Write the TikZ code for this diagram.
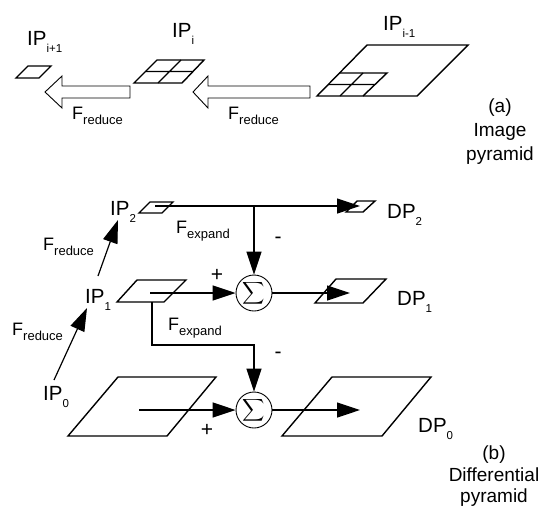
\documentclass[tikz,border=0pt]{standalone}
\usepackage{fontspec}
\usepackage{graphicx}
\setmainfont{Liberation Sans}
\usetikzlibrary{arrows.meta}
\newcommand{\ipl}[2]{#1\raisebox{-7pt}{\fontsize{11.5}{11.5}\selectfont #2}}
\newcommand{\fl}[2]{#1\raisebox{-5pt}{\fontsize{13}{13}\selectfont #2}}
\newcommand{\bigsum}{\scalebox{1.55}{$\displaystyle\sum$}}
\begin{document}
\begin{tikzpicture}[x=1pt,y=-1pt,
  lbl/.style={font=\fontsize{20.5}{20.5}\selectfont, inner sep=0pt, anchor=base west},
  flbl/.style={font=\fontsize{18}{18}\selectfont, inner sep=0pt, anchor=base west},
  captxt/.style={font=\fontsize{19}{19}\selectfont, inner sep=0pt, anchor=base},
  sign/.style={font=\fontsize{21}{21}\selectfont, inner sep=0pt},
  plate/.style={line width=1.4pt, line join=miter},
  conn/.style={line width=1.2pt},
  arr/.style={conn, -{Triangle[length=23pt,width=15pt]}},
  hollow/.style={line width=0.9pt, line join=miter},
  sumnode/.style={circle, draw, line width=0.9pt, minimum size=36pt, inner sep=0pt}]
\useasboundingbox (0,0) rectangle (545,506);

% ---------- (a) image pyramid ----------
\draw[plate] (16,78) -- (39,78) -- (51,66) -- (28,66) -- cycle;
\draw[plate] (134,83) -- (182,83) -- (204,60) -- (157,60) -- cycle;
\draw[plate] (145.5,71.5) -- (193,71.5) (158,83) -- (181,60);
\draw[plate] (317,96) -- (417,96) -- (468,45) -- (367,45) -- cycle;
\draw[plate] (339,73) -- (387,73) -- (363,96);
\draw[plate] (328,84.5) -- (375,84.5) (340,96) -- (363,73);

\draw[hollow] (45,92) -- (62,76) -- (62,86) -- (130,86) -- (130,98) -- (62,98) -- (62,108) -- cycle;
\draw[hollow] (193,92) -- (208,76) -- (208,86) -- (310,86) -- (310,98) -- (208,98) -- (208,108) -- cycle;

\node[lbl] (ipa) at (27,45) {\ipl{IP}{i+1}};
\node[lbl] (ipb) at (172,37) {\ipl{IP}{i}};
\node[lbl] (ipc) at (383,30) {\ipl{IP}{i-1}};
\node[flbl] (fra) at (72,119) {\fl{F}{reduce}};
\node[flbl] (frb) at (228,119) {\fl{F}{reduce}};
\node[captxt] (capa1) at (500,112) {(a)};
\node[captxt] (capa2) at (500,136) {Image};
\node[captxt] (capa3) at (500,160) {pyramid};

% ---------- (b) differential pyramid ----------
\draw[plate] (139,213) -- (162,213) -- (173,202) -- (150,202) -- cycle;
\draw[plate] (346,212) -- (363,212) -- (375,201) -- (357,201) -- cycle;
\draw[plate] (117,302) -- (164,302) -- (186,280) -- (137,280) -- cycle;
\draw[plate] (315,303) -- (363,303) -- (386,279) -- (336,279) -- cycle;
\draw[plate] (68,436) -- (167,436) -- (216,377) -- (118,377) -- cycle;
\draw[plate] (282,436) -- (382,436) -- (431,377) -- (332,377) -- cycle;

\node[sumnode] (s1) at (254,293) {\bigsum};
\node[sumnode] (s0) at (254,410) {\bigsum};

\coordinate (ip2s) at (155,206);
\coordinate (dp2t) at (360,206);
\coordinate (j2) at (254,206);
\coordinate (ip1s) at (150,293);
\coordinate (dp1t) at (350,293);
\coordinate (ip1b) at (152,302);
\coordinate (k1) at (152,345);
\coordinate (k2) at (254,345);
\coordinate (ip0s) at (139,410);
\coordinate (dp0t) at (360,410);
\coordinate (r0a) at (54,380);
\coordinate (r0b) at (87,308);
\coordinate (r1a) at (98,276);
\coordinate (r1b) at (118,220);

\draw[arr] (ip2s) -- (dp2t);
\draw[arr] (j2) -- (s1);
\draw[arr] (ip1s) -- (s1);
\draw[arr] (s1) -- (dp1t);
\draw[arr] (ip1b) -- (k1) -- (k2) -- (s0);
\draw[arr] (ip0s) -- (s0);
\draw[arr] (s0) -- (dp0t);
\draw[arr] (r0a) -- (r0b);
\draw[arr] (r1a) -- (r1b);

\node[lbl] (ip2) at (110,215) {\ipl{IP}{2}};
\node[lbl] (ip1) at (85,303) {\ipl{IP}{1}};
\node[lbl] (ip0) at (43,400) {\ipl{IP}{0}};
\node[lbl] (dp2) at (387,218) {\ipl{DP}{2}};
\node[lbl] (dp1) at (397,305) {\ipl{DP}{1}};
\node[lbl] (dp0) at (418,432) {\ipl{DP}{0}};
\node[flbl] (fr1) at (43,250) {\fl{F}{reduce}};
\node[flbl] (fr0) at (12,335) {\fl{F}{reduce}};
\node[flbl] (fe2) at (176,233) {\fl{F}{expand}};
\node[flbl] (fe1) at (168,330) {\fl{F}{expand}};
\node[sign] (pl1) at (217,275) {+};
\node[sign] (mi1) at (278,240) {-};
\node[sign] (mi0) at (278,355) {-};
\node[sign] (pl0) at (207,430) {+};
\node[captxt] (capb1) at (494,459) {(b)};
\node[captxt] (capb2) at (494,481) {Differential};
\node[captxt] (capb3) at (494,502) {pyramid};
\end{tikzpicture}
\end{document}
